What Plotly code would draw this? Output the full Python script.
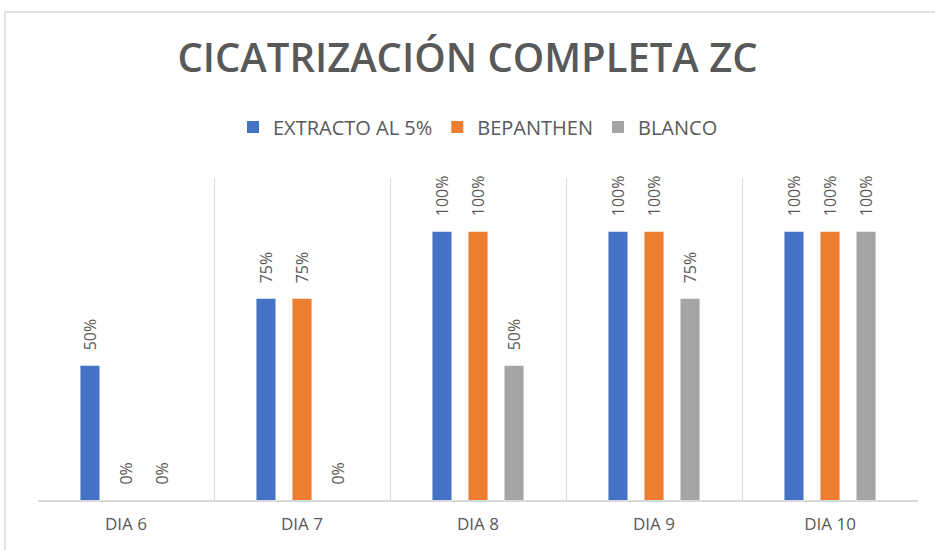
import plotly.graph_objects as go

categories = ["DIA 6", "DIA 7", "DIA 8", "DIA 9", "DIA 10"]
extracto = [0.50, 0.75, 1.00, 1.00, 1.00]
bepanthen = [0.00, 0.75, 1.00, 1.00, 1.00]
blanco = [0.00, 0.00, 0.50, 0.75, 1.00]

series = [
    ("EXTRACTO AL 5%", extracto, "#4472C4"),
    ("BEPANTHEN", bepanthen, "#ED7D31"),
    ("BLANCO", blanco, "#A5A5A5"),
]

fig = go.Figure()
for name, vals, color in series:
    fig.add_trace(go.Bar(
        name=name, x=categories, y=vals,
        marker=dict(color=color, line=dict(width=0)),
        texttemplate="\u00a0\u00a0\u00a0%{y:.0%}",
        textposition="outside", textangle=-90,
        textfont=dict(family="Open Sans", size=16, color="#595959"),
        cliponaxis=False,
    ))

fig.update_layout(
    width=935, height=550,
    margin=dict(l=38, r=17, t=178, b=50),
    paper_bgcolor="white", plot_bgcolor="white",
    barmode="group", bargap=0.386, bargroupgap=0.47,
    uniformtext=dict(minsize=16, mode="show"),
    title=dict(text="CICATRIZACIÓN COMPLETA ZC", x=0.5, xanchor="center",
               y=1 - 58 / 550, yanchor="middle",
               font=dict(family="Open Sans", size=40, weight=600, color="#595959")),
    legend=dict(orientation="h", x=0.5, xanchor="center", y=1.158, yanchor="middle",
                font=dict(family="Open Sans", size=20, color="#595959"),
                itemwidth=30, traceorder="normal"),
    showlegend=True,
    xaxis=dict(showgrid=True, gridcolor="#D9D9D9", tickson="boundaries",
               showline=True, linecolor="#D9D9D9", linewidth=1.5,
               ticks="", ticklabelstandoff=8,
               tickfont=dict(family="Open Sans", size=17, color="#595959"),
               mirror=False),
    yaxis=dict(range=[0, 1.2], showgrid=False, showticklabels=False,
               zeroline=False, showline=False, ticks=""),
    shapes=[dict(type="rect", xref="paper", yref="paper",
                 x0=(5 - 38) / 880, x1=(945 - 38) / 880,
                 y0=(500 - 560) / 322, y1=(500 - 12) / 322,
                 line=dict(color="#D9D9D9", width=1.5), fillcolor="rgba(0,0,0,0)",
                 layer="below")],
)

fig.write_html("out.html", config={"displayModeBar": False},
               post_script="document.body.style.margin='0';")
